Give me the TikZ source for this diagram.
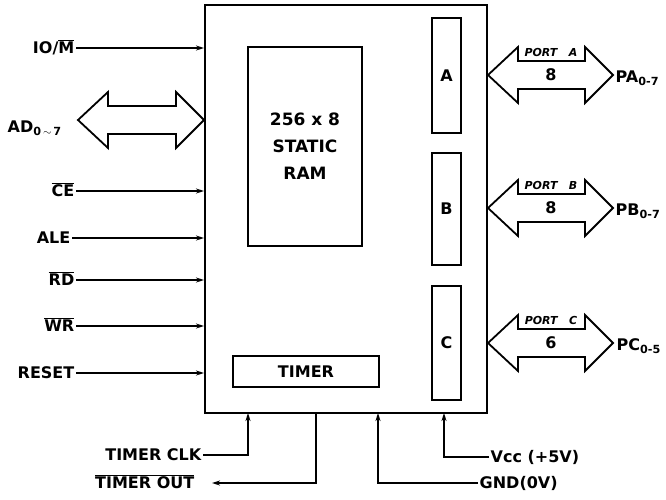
\documentclass[tikz,border=0pt]{standalone}
\usepackage{fontspec}
\setmainfont{DejaVu Sans}
\usetikzlibrary{arrows.meta,calc,positioning}
\newcommand{\ovl}[1]{$\overline{\mbox{#1}}$}
% fat bus arrow between two points on one level
\newcommand{\busarrow}[2]{%
  \draw[bus] let \p1=#1, \p2=#2 in (\p1) -- (\x1+30pt,\y1+28pt) -- (\x1+30pt,\y1+14pt)
    -- (\x2-28pt,\y1+14pt) -- (\x2-28pt,\y1+28pt) -- (\p2) -- (\x2-28pt,\y1-28pt)
    -- (\x2-28pt,\y1-14pt) -- (\x1+30pt,\y1-14pt) -- (\x1+30pt,\y1-28pt) -- cycle;}

\begin{document}
\begin{tikzpicture}[
  x=1pt,y=-1pt,
  chipbox/.style={draw,line width=2pt,minimum width=282pt,minimum height=408pt},
  blockbox/.style={draw,line width=1.7pt,align=center,inner sep=0pt,font=\fontsize{16}{27}\selectfont\bfseries},
  sig/.style={font=\fontsize{16}{19}\selectfont\bfseries,inner sep=1.5pt,text height=11.5pt,text depth=0pt},
  portlbl/.style={font=\fontsize{11}{13}\selectfont\bfseries\itshape,inner sep=0pt},
  pin/.style={line width=1.6pt,-{Stealth[length=8pt,width=5pt]}},
  bus/.style={line width=1.8pt,line join=miter},
]
\useasboundingbox (0,0) rectangle (666,499);

% Chip and inner blocks
\node[chipbox] (chip) at (346,209) {};
\node[blockbox,minimum width=114pt,minimum height=199pt,font=\fontsize{17}{27}\selectfont\bfseries] (ram) at (305,146.5) {256 x 8\\STATIC\\RAM};
\node[blockbox,minimum width=146pt,minimum height=31pt] (timer) at (306,371.5) {TIMER};
\node[blockbox,minimum width=29pt,minimum height=115pt] (porta) at (446.5,75.5) {A};
\node[blockbox,minimum width=29pt,minimum height=112pt] (portb) at (446.5,209) {B};
\node[blockbox,minimum width=29pt,minimum height=114pt] (portc) at (446.5,343) {C};

% Left side signals
\node[sig,anchor=east] (io) at (76,48) {IO/\ovl{M}};
\node[sig,anchor=east] (ce) at (76,191) {\ovl{CE}};
\node[sig,anchor=east] (ale) at (72,238) {ALE};
\node[sig,anchor=east] (rd) at (76,280) {\ovl{RD}};
\node[sig,anchor=east] (wr) at (76,326) {\ovl{WR}};
\node[sig,anchor=east] (reset) at (76,373) {RESET};

\draw[pin] (io) -- (io -| chip.west);
\draw[pin] (ce) -- (ce -| chip.west);
\draw[pin] (ale) -- (ale -| chip.west);
\draw[pin] (rd) -- (rd -| chip.west);
\draw[pin] (wr) -- (wr -| chip.west);
\draw[pin] (reset) -- (reset -| chip.west);

% Address/data bus
\coordinate (adtip) at (78,120);
\busarrow{(adtip)}{(chip.west |- adtip)}
\node[sig,anchor=west] (ad) at (6,127) {AD\textsubscript{0\,$\sim$\,7}};

% Ports
\coordinate (patip) at (613,75);
\coordinate (pbtip) at (613,208);
\coordinate (pctip) at (613,343);
\busarrow{(chip.east |- patip)}{(patip)}
\busarrow{(chip.east |- pbtip)}{(pbtip)}
\busarrow{(chip.east |- pctip)}{(pctip)}

\node[portlbl,anchor=base] (pa_name) at (551,56) {PORT\ \ \ A};
\node[portlbl,anchor=base] (pb_name) at (551,189) {PORT\ \ \ B};
\node[portlbl,anchor=base] (pc_name) at (551,324) {PORT\ \ \ C};
\node[sig] (pa_bits) at (551,75) {8};
\node[sig] (pb_bits) at (551,208) {8};
\node[sig] (pc_bits) at (551,343) {6};
\node[sig,anchor=west] (pa) at (614,77) {PA\textsubscript{0-7}};
\node[sig,anchor=west] (pb) at (614,210) {PB\textsubscript{0-7}};
\node[sig,anchor=west] (pc) at (615,345) {PC\textsubscript{0-5}};

% Bottom pins
\coordinate (clkpin) at (248,413);
\coordinate (outpin) at (316,413);
\coordinate (gndpin) at (378,413);
\coordinate (vccpin) at (444,413);

\node[sig,anchor=east] (tclk) at (203,455) {TIMER CLK};
\node[sig,anchor=east] (tout) at (196,483) {\ovl{TIMER OUT}};
\node[sig,anchor=west] (vcc) at (489,457) {Vcc (+5V)};
\node[sig,anchor=west] (gnd) at (478,483) {GND(0V)};

\draw[pin] (tclk) -| (clkpin);
\draw[pin,shorten >=16pt] (outpin) |- (tout);
\draw[pin] (gnd) -| (gndpin);
\draw[pin] (vcc) -| (vccpin);

\end{tikzpicture}
\end{document}
